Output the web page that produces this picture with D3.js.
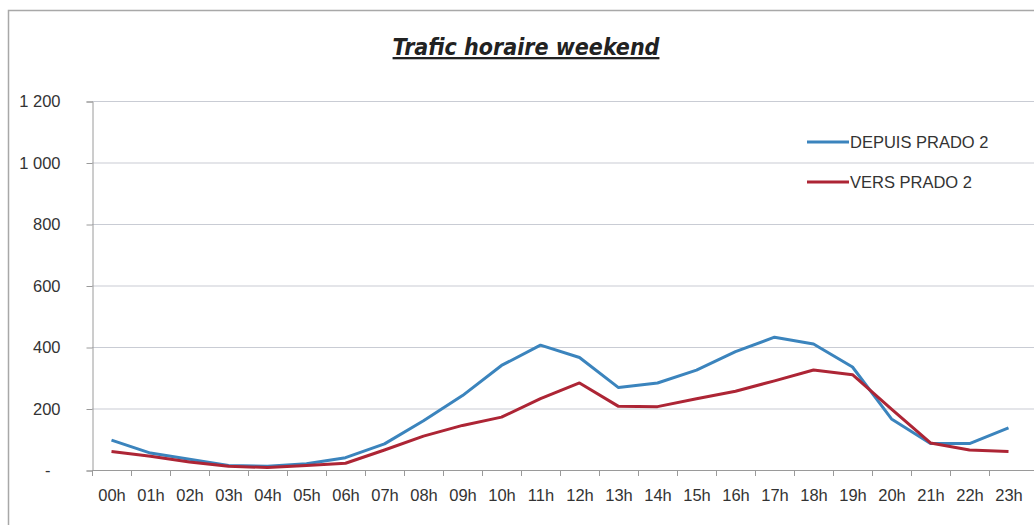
<!DOCTYPE html>
<html>
<head>
<meta charset="utf-8">
<script src="https://cdn.jsdelivr.net/npm/d3@7"></script>
<style>
  body { margin: 0; background: #fff; }
  svg { display: block; font-family: "Liberation Sans", Arial, sans-serif; }
</style>
</head>
<body>
<svg id="chart" width="1034" height="525"></svg>
<script>
const hours = ['00h', '01h', '02h', '03h', '04h', '05h', '06h', '07h', '08h', '09h', '10h', '11h',
  '12h', '13h', '14h', '15h', '16h', '17h', '18h', '19h', '20h', '21h', '22h', '23h'];
const depuisPrado = [97, 55, 35, 15, 12, 20, 40, 85, 160, 242, 340, 406, 366, 268, 283, 325, 385, 432, 410, 335, 166, 86, 86, 137];
const versPrado = [60, 45, 26, 12, 8, 15, 22, 65, 110, 145, 172, 232, 283, 207, 206, 232, 256, 290, 325, 310, 198, 88, 65, 60];
const yTicks = [0, 200, 400, 600, 800, 1000, 1200];
const seriesNames = ['DEPUIS PRADO 2', 'VERS PRADO 2'];

const colors = ['#3b84bd', '#ad2535'];

const svg = d3.select('#chart');
const margin = { left: 92, top: 101 };
const width = 1034;

// outer frame
svg.append('rect')
  .attr('x', 8.5).attr('y', 10.5)
  .attr('width', 1040).attr('height', 530)
  .attr('fill', 'none').attr('stroke', '#a8a8a8').attr('stroke-width', 1.5);

// title
svg.append('text')
  .attr('x', 526).attr('y', 55)
  .attr('text-anchor', 'middle')
  .style('font-family', '"DejaVu Sans Condensed", sans-serif')
  .style('font-size', '23px').style('font-weight', 'bold').style('font-style', 'italic')
  .style('text-decoration', 'underline')
  .attr('fill', '#222')
  .text('Trafic horaire weekend');

const x = d3.scaleBand().domain(hours).range([margin.left, margin.left + 39 * 24]);
const y = d3.scaleLinear().domain([0, 1200]).range([470, margin.top]);

const formatY = (d) => d === 0 ? '-' : d3.format(',')(d).replace(',', ' ');

// grid lines
svg.append('g')
  .selectAll('line')
  .data(yTicks.filter((d) => d > 0))
  .enter()
  .append('line')
  .attr('x1', margin.left).attr('x2', width)
  .attr('y1', (d) => y(d) + 0.5).attr('y2', (d) => y(d) + 0.5)
  .attr('stroke', '#c9ccd4').attr('stroke-width', 1.2);

// y axis
const yAxis = svg.append('g')
  .attr('transform', `translate(${margin.left + 0.5},0.5)`)
  .call(d3.axisLeft(y).tickValues(yTicks).tickSize(6).tickPadding(26).tickFormat(formatY));
yAxis.selectAll('line, path').attr('stroke', '#9a9a9a');
yAxis.selectAll('text').style('font-size', '16.5px').attr('fill', '#333');
yAxis.selectAll('text').filter((d) => d === 0).attr('dx', -10);

// x axis
const xAxis = svg.append('g')
  .attr('transform', 'translate(0.5,470.5)')
  .call(d3.axisBottom(x).tickSize(0).tickPadding(19));
xAxis.select('path').attr('stroke', '#9a9a9a').attr('d', `M${margin.left},0H${width}`);
xAxis.selectAll('text').style('font-size', '16.5px').attr('fill', '#333');

// tick marks at category boundaries
svg.append('g')
  .selectAll('line')
  .data(hours)
  .enter()
  .append('line')
  .attr('x1', (d) => x(d) + 0.5).attr('x2', (d) => x(d) + 0.5)
  .attr('y1', 470).attr('y2', 476)
  .attr('stroke', '#9a9a9a');

// series lines
const line = d3.line()
  .x((d, i) => x(hours[i]) + x.bandwidth() / 2)
  .y((d) => y(d));

[depuisPrado, versPrado].forEach((values, i) => {
  svg.append('path')
    .datum(values)
    .attr('fill', 'none')
    .attr('stroke', colors[i])
    .attr('stroke-width', 3)
    .attr('stroke-linejoin', 'round')
    .attr('d', line);
});

// legend
const legend = svg.append('g').attr('transform', 'translate(807,142)');
seriesNames.forEach((name, i) => {
  const g = legend.append('g').attr('transform', `translate(0,${i * 40})`);
  g.append('line')
    .attr('x1', 0).attr('x2', 42)
    .attr('stroke', colors[i]).attr('stroke-width', 3);
  g.append('text')
    .attr('x', 43).attr('y', 6)
    .style('font-size', '16.5px').attr('fill', '#333')
    .text(name);
});
</script>
</body>
</html>
